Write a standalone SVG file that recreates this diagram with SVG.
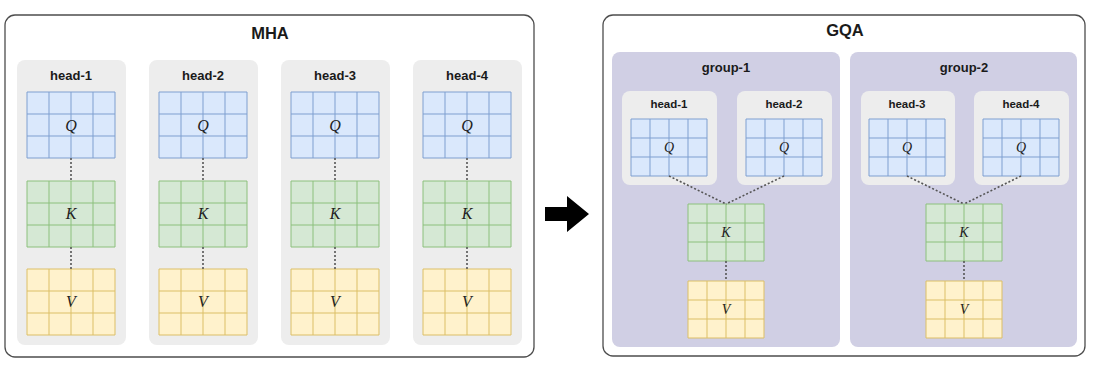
<svg xmlns="http://www.w3.org/2000/svg" xmlns:xlink="http://www.w3.org/1999/xlink" width="1094" height="366" viewBox="0 0 1094 366">
<style>
.outer{fill:#ffffff;stroke:#4d4d4d;stroke-width:1.3}
.panel{fill:#ededed}
.group{fill:#d0cfe4}
.q{fill:#dae8fc;stroke:#7f9fd0;stroke-width:1}
.k{fill:#d5e8d4;stroke:#8cc07c;stroke-width:1}
.v{fill:#fff2cc;stroke:#dcbf66;stroke-width:1}
.title{font-family:"Liberation Sans",Arial,sans-serif;font-weight:bold;fill:#1a1a1a;text-anchor:middle}
.t1{font-size:16.5px}
.t2{font-size:13px}
.t3{font-size:11.5px}
.m{font-family:"Liberation Serif","Times New Roman",serif;font-style:italic;fill:#222;text-anchor:middle;font-size:16px}
.ms{font-size:14px}
.dash{fill:none;stroke:#555;stroke-width:1.6;stroke-dasharray:2 2}
</style>
<defs>
<path id="gL" d="M0,0h88v66h-88zM22,0v66M44,0v66M66,0v66M0,22h88M0,44h88"/>
<path id="gS" d="M0,0h76v57h-76zM19,0v57M38,0v57M57,0v57M0,19h76M0,38h76"/>
</defs>

<g id="mha">
<rect class="outer" x="5" y="15" width="529" height="342" rx="10"/>
<text class="title t1" x="270" y="39">MHA</text>
</g>

<g id="mha-head-1">
<rect class="panel" x="17" y="60" width="109" height="285" rx="8"/>
<text class="title t2" x="71" y="80">head-1</text>
<use xlink:href="#gL" class="q" x="27" y="92"/>
<use xlink:href="#gL" class="k" x="27" y="181"/>
<use xlink:href="#gL" class="v" x="27" y="269"/>
<text class="m" x="71" y="131">Q</text>
<text class="m" x="71" y="219">K</text>
<text class="m" x="71" y="307">V</text>
</g>
<g id="mha-head-2">
<rect class="panel" x="149" y="60" width="109" height="285" rx="8"/>
<text class="title t2" x="203" y="80">head-2</text>
<use xlink:href="#gL" class="q" x="159" y="92"/>
<use xlink:href="#gL" class="k" x="159" y="181"/>
<use xlink:href="#gL" class="v" x="159" y="269"/>
<text class="m" x="203" y="131">Q</text>
<text class="m" x="203" y="219">K</text>
<text class="m" x="203" y="307">V</text>
</g>
<g id="mha-head-3">
<rect class="panel" x="281" y="60" width="109" height="285" rx="8"/>
<text class="title t2" x="335" y="80">head-3</text>
<use xlink:href="#gL" class="q" x="291" y="92"/>
<use xlink:href="#gL" class="k" x="291" y="181"/>
<use xlink:href="#gL" class="v" x="291" y="269"/>
<text class="m" x="335" y="131">Q</text>
<text class="m" x="335" y="219">K</text>
<text class="m" x="335" y="307">V</text>
</g>
<g id="mha-head-4">
<rect class="panel" x="413" y="60" width="109" height="285" rx="8"/>
<text class="title t2" x="467" y="80">head-4</text>
<use xlink:href="#gL" class="q" x="423" y="92"/>
<use xlink:href="#gL" class="k" x="423" y="181"/>
<use xlink:href="#gL" class="v" x="423" y="269"/>
<text class="m" x="467" y="131">Q</text>
<text class="m" x="467" y="219">K</text>
<text class="m" x="467" y="307">V</text>
</g>

<g id="arrow">
<polygon points="545,207 567,207 567,196 589,214 567,232 567,221 545,221" fill="#000"/>
</g>

<g id="gqa">
<rect class="outer" x="603" y="15" width="482" height="341" rx="10"/>
<text class="title t1" x="845" y="36">GQA</text>
</g>

<g id="group-1">
<rect class="group" x="612" y="52" width="228" height="295" rx="8"/>
<text class="title t2" x="726" y="72">group-1</text>
<use xlink:href="#gS" class="k" x="688" y="204"/>
<use xlink:href="#gS" class="v" x="688" y="281"/>
<text class="m ms" x="726" y="237">K</text>
<text class="m ms" x="726" y="314">V</text>
</g>
<g id="gqa-head-1">
<rect class="panel" x="622" y="91" width="95" height="94" rx="8"/>
<text class="title t3" x="669" y="108">head-1</text>
<use xlink:href="#gS" class="q" x="631" y="119"/>
<text class="m ms" x="669" y="152">Q</text>
</g>
<g id="gqa-head-2">
<rect class="panel" x="737" y="91" width="95" height="94" rx="8"/>
<text class="title t3" x="784" y="108">head-2</text>
<use xlink:href="#gS" class="q" x="746" y="119"/>
<text class="m ms" x="784" y="152">Q</text>
</g>

<g id="group-2">
<rect class="group" x="850" y="52" width="227" height="295" rx="8"/>
<text class="title t2" x="964" y="72">group-2</text>
<use xlink:href="#gS" class="k" x="926" y="204"/>
<use xlink:href="#gS" class="v" x="926" y="281"/>
<text class="m ms" x="964" y="237">K</text>
<text class="m ms" x="964" y="314">V</text>
</g>
<g id="gqa-head-3">
<rect class="panel" x="861" y="91" width="94" height="94" rx="8"/>
<text class="title t3" x="907" y="108">head-3</text>
<use xlink:href="#gS" class="q" x="869" y="119"/>
<text class="m ms" x="907" y="152">Q</text>
</g>
<g id="gqa-head-4">
<rect class="panel" x="974" y="91" width="95" height="94" rx="8"/>
<text class="title t3" x="1021" y="108">head-4</text>
<use xlink:href="#gS" class="q" x="983" y="119"/>
<text class="m ms" x="1021" y="152">Q</text>
</g>

<g id="connectors">
<path class="dash" d="M71,158V181M71,247V269"/>
<path class="dash" d="M203,158V181M203,247V269"/>
<path class="dash" d="M335,158V181M335,247V269"/>
<path class="dash" d="M467,158V181M467,247V269"/>
<path class="dash" d="M669,176L726,204M784,176L726,204M726,261V281"/>
<path class="dash" d="M907,176L964,204M1021,176L964,204M964,261V281"/>
</g>
</svg>
